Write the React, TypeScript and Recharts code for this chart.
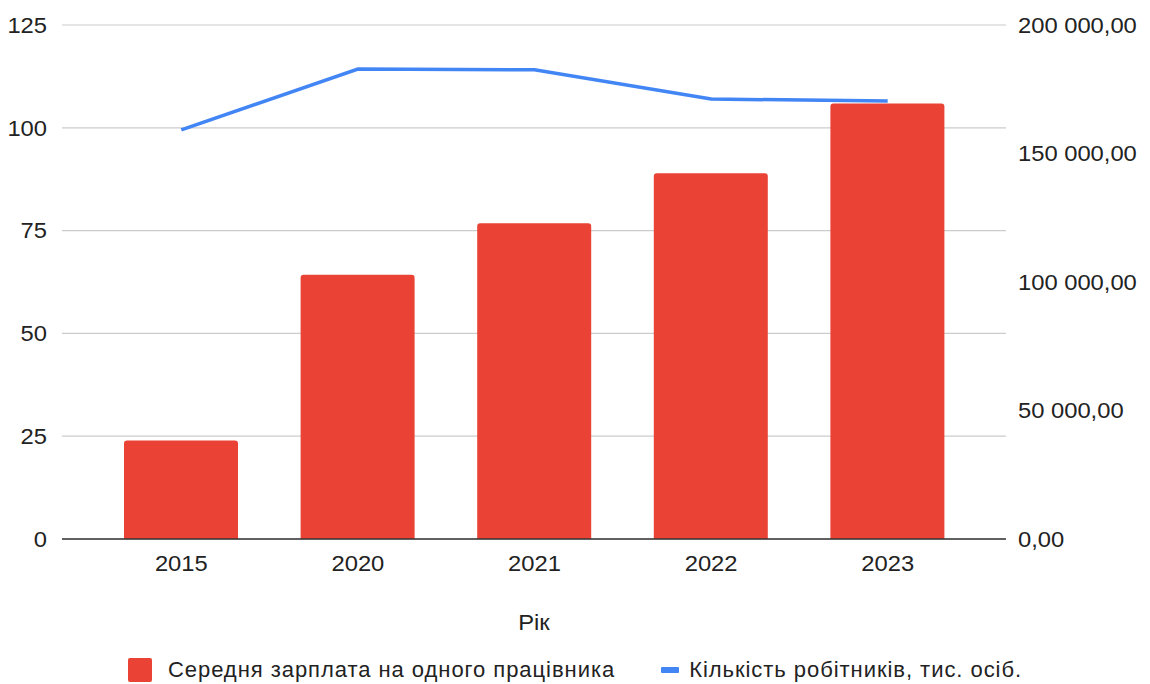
import React from 'react';
import { ComposedChart, Bar, Line, XAxis, YAxis, CartesianGrid, Legend } from 'recharts';

const years = ['2015', '2020', '2021', '2022', '2023'];
const avgSalary = [38300, 102800, 122900, 142300, 169500];
const workers = [99.5, 114.3, 114.1, 107.0, 106.5];
const leftTicks = [0, 25, 50, 75, 100, 125];
const rightTicks = [0, 50000, 100000, 150000, 200000];

const salaryName = 'Середня зарплата на одного працівника';
const workersName = 'Кількість робітників, тис. осіб.';
const xTitle = 'Рік';

const data = years.map((y, i) => ({ year: y, salary: avgSalary[i], workers: workers[i] }));

const FONT = '"Liberation Sans", Arial, sans-serif';
const FS = 22;
const SX = 1.08;
const TXT = '#222';
const RED = '#EA4335';
const BLUE = '#4285F4';

const fmtRight = (v: number) => {
  const [intPart, dec] = v.toFixed(2).split('.');
  const withSpaces = intPart.replace(/\B(?=(\d{3})+(?!\d))/g, ' ');
  return `${withSpaces},${dec}`;
};

const StretchText = ({ x, y, text, anchor, dy }: any) => (
  <g transform={`translate(${x},${y}) scale(${SX},1)`}>
    <text x={0} y={0} dy={dy} textAnchor={anchor} fill={TXT} fontSize={FS} fontFamily={FONT}>
      {text}
    </text>
  </g>
);

const XTick = (props: any) => <StretchText x={props.x} y={props.y} text={props.payload.value} anchor="middle" dy="0.71em" />;
const LeftTick = (props: any) => <StretchText x={props.x} y={props.y} text={String(props.payload.value)} anchor="end" dy="0.355em" />;
const RightTick = (props: any) => <StretchText x={props.x} y={props.y} text={fmtRight(props.payload.value)} anchor="start" dy="0.355em" />;

const XLabel = (props: any) => {
  const vb = props.viewBox || {};
  const cx = vb.x + vb.width / 2;
  const by = vb.y + vb.height - 9;
  return <StretchText x={cx} y={by} text={xTitle} anchor="middle" dy={0} />;
};

const textStyle: React.CSSProperties = { letterSpacing: 0.95 };

const LegendContent = () => (
  <div
    style={{
      display: 'flex',
      justifyContent: 'center',
      alignItems: 'center',
      fontFamily: FONT,
      fontSize: FS,
      color: TXT,
      height: 45,
      paddingTop: 17,
      boxSizing: 'border-box',
    }}
  >
    <div style={{ display: 'flex', alignItems: 'center' }}>
      <span style={{ width: 24, height: 24, background: RED, borderRadius: 2, display: 'inline-block', marginRight: 16 }} />
      <span style={textStyle}>{salaryName}</span>
    </div>
    <div style={{ display: 'flex', alignItems: 'center', marginLeft: 46 }}>
      <span style={{ width: 18, height: 6, background: BLUE, borderRadius: 1, display: 'inline-block', marginRight: 10 }} />
      <span style={textStyle}>{workersName}</span>
    </div>
  </div>
);

export default function App() {
  return (
    <div style={{ position: 'absolute', left: 0, top: 0, width: 1150, height: 684, background: '#fff', overflow: 'hidden' }}>
      <ComposedChart width={1150} height={684} data={data} margin={{ top: 25, right: 0, left: 0, bottom: 0 }}>
        <CartesianGrid yAxisId="left" vertical={false} stroke="#cccccc" strokeWidth={1.2} />
        <XAxis
          dataKey="year"
          height={100}
          padding={{ left: 31, right: 30 }}
          tickLine={false}
          tickSize={0}
          tickMargin={16}
          axisLine={{ stroke: '#333', strokeWidth: 1.5 }}
          tick={<XTick />}
          label={<XLabel />}
        />
        <YAxis
          yAxisId="left"
          orientation="left"
          width={62}
          domain={[0, 125]}
          ticks={leftTicks}
          axisLine={false}
          tickLine={false}
          tickSize={0}
          tickMargin={15}
          tick={<LeftTick />}
        />
        <YAxis
          yAxisId="right"
          orientation="right"
          width={144}
          domain={[0, 200000]}
          ticks={rightTicks}
          axisLine={false}
          tickLine={false}
          tickSize={0}
          tickMargin={12}
          tick={<RightTick />}
        />
        <Bar
          yAxisId="right"
          dataKey="salary"
          name={salaryName}
          fill={RED}
          barSize={114}
          radius={[3, 3, 0, 0]}
          isAnimationActive={false}
        />
        <Line
          yAxisId="left"
          dataKey="workers"
          name={workersName}
          stroke={BLUE}
          strokeWidth={3.5}
          dot={false}
          activeDot={false}
          type="linear"
          isAnimationActive={false}
        />
        <Legend verticalAlign="bottom" height={45} content={<LegendContent />} />
      </ComposedChart>
    </div>
  );
}
